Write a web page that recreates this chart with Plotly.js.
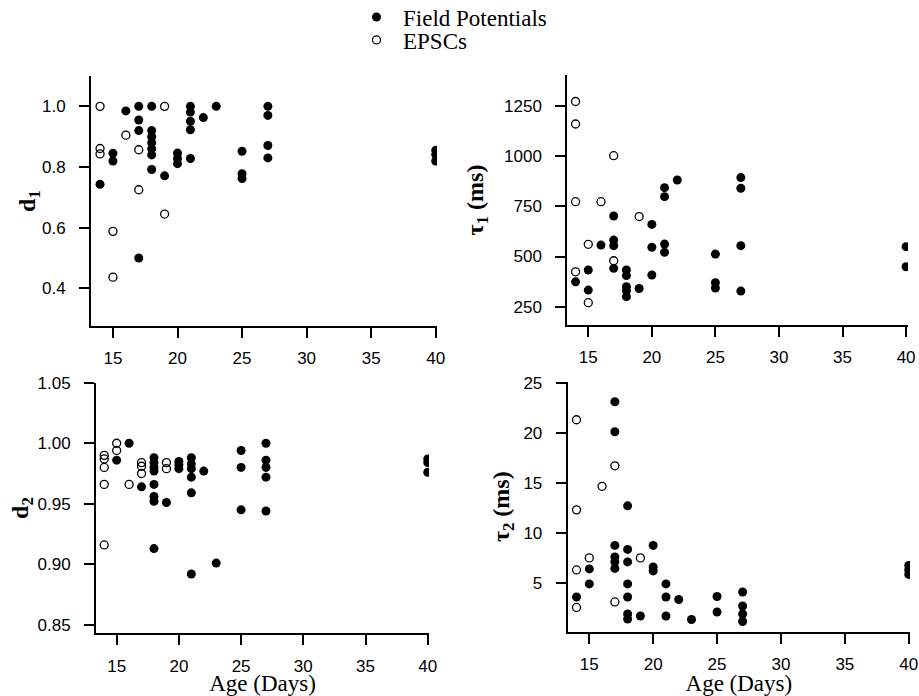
<!DOCTYPE html>
<html>
<head>
<meta charset="utf-8">
<script src="https://cdn.plot.ly/plotly-3.0.1.min.js"></script>
<style>html,body{margin:0;padding:0;background:#fff;}#chart{width:919px;height:696px;}</style>
</head>
<body>
<div id="chart"></div>
<script>
// ---- Data (ages in days) ----
const d1FpAge  = [14, 15,15, 16, 17,17,17,17, 18,18,18,18,18,18,18, 19, 20,20,20, 21,21,21,21,21, 22, 23, 25,25,25, 27,27,27,27, 40,40,40];
const d1Fp     = [0.743, 0.845,0.82, 0.985, 1.0,0.955,0.92,0.50, 1.0,0.92,0.90,0.88,0.86,0.84,0.792, 0.771, 0.846,0.828,0.811, 1.0,0.981,0.951,0.923,0.828, 0.963, 1.0, 0.852,0.778,0.762, 1.0,0.97,0.871,0.83, 0.855,0.841,0.82];
const d1EpAge  = [14,14,14, 15,15, 16, 17,17, 19,19];
const d1Ep     = [1.0,0.861,0.843, 0.588,0.437, 0.905, 0.857,0.725, 1.0,0.645];

const t1FpAge  = [14, 15,15, 16, 17,17,17,17, 18,18,18,18,18, 19, 20,20,20, 21,21,21,21, 22, 25,25,25, 27,27,27,27, 40,40];
const t1Fp     = [374, 433,333, 557, 702,582,554,441, 433,405,350,330,300, 341, 660,546,408, 843,798,562,521, 881, 512,370,343, 893,840,554,328, 549,449];
const t1EpAge  = [14,14,14,14, 15,15, 16, 17,17, 19];
const t1Ep     = [1272,1160,773,424, 561,270, 773, 1002,479, 699];

const d2FpAge  = [15, 16, 17, 18,18,18,18,18,18,18,18, 19, 20,20,20, 21,21,21,21,21,21, 22, 23, 25,25,25, 27,27,27,27,27, 40,40,40];
const d2Fp     = [0.986, 1.0, 0.964, 0.988,0.984,0.980,0.977,0.966,0.956,0.952,0.913, 0.951, 0.985,0.982,0.979, 0.988,0.983,0.979,0.972,0.959,0.892, 0.977, 0.901, 0.994,0.980,0.945, 1.0,0.986,0.980,0.972,0.944, 0.987,0.984,0.976];
const d2EpAge  = [14,14,14,14,14, 15,15, 16, 17,17,17, 19,19];
const d2Ep     = [0.990,0.987,0.980,0.966,0.916, 1.0,0.994, 0.966, 0.984,0.981,0.975, 0.984,0.979];

const t2FpAge  = [14, 15,15, 17,17,17,17,17,17, 18,18,18,18,18,18,18, 19, 20,20,20, 21,21,21, 22, 23, 25,25, 27,27,27,27, 40,40,40];
const t2Fp     = [3.6, 6.4,4.9, 23.1,20.1,8.75,7.6,7.1,6.45, 12.7,8.35,7.1,4.9,3.6,1.9,1.4, 1.7, 8.75,6.6,6.2, 4.9,3.6,1.7, 3.35, 1.35, 3.65,2.1, 4.1,2.7,1.9,1.15, 6.75,6.3,5.85];
const t2EpAge  = [14,14,14,14, 15, 16, 17,17, 19];
const t2Ep     = [21.3,12.3,6.3,2.55, 7.5, 14.65, 16.7, 3.1, 7.5];

const seriesNames = ['Field Potentials', 'EPSCs'];
const xTicks = [15, 20, 25, 30, 35, 40];

// ---- Styling / layout ----
const W = 919, H = 696;
const px = v => v / W;
const py = v => 1 - v / H;
const SANS = 'Liberation Sans, Arial, sans-serif';
const SERIF = 'Liberation Serif, Times New Roman, serif';

const filled = {symbol: 'circle', size: 9, color: '#000'};
const open = {symbol: 'circle-open', size: 8, color: '#000', line: {width: 1.3, color: '#000'}};

function tr(x, y, xa, ya, isFp, showleg) {
  return {
    type: 'scatter', mode: 'markers', x: x, y: y, xaxis: xa, yaxis: ya,
    name: isFp ? seriesNames[0] : seriesNames[1],
    marker: isFp ? filled : open,
    showlegend: showleg, legend: isFp ? 'legend' : 'legend2',
    hoverinfo: 'x+y'
  };
}

const data = [
  tr(d1FpAge, d1Fp, 'x', 'y', true, true),
  tr(d1EpAge, d1Ep, 'x', 'y', false, true),
  tr(t1FpAge, t1Fp, 'x2', 'y2', true, false),
  tr(t1EpAge, t1Ep, 'x2', 'y2', false, false),
  tr(d2FpAge, d2Fp, 'x3', 'y3', true, false),
  tr(d2EpAge, d2Ep, 'x3', 'y3', false, false),
  tr(t2FpAge, t2Fp, 'x4', 'y4', true, false),
  tr(t2EpAge, t2Ep, 'x4', 'y4', false, false)
];

function xAxis(dom, range, anchor, withTitle) {
  const a = {
    domain: dom, range: range, anchor: anchor, automargin: false,
    showline: true, linewidth: 2, linecolor: '#000',
    ticks: 'outside', ticklen: 10, tickwidth: 2, tickcolor: '#000',
    tickvals: xTicks, showgrid: false, zeroline: false,
    ticklabelstandoff: 6,
    tickfont: {family: SANS, size: 17, color: '#000'}
  };
  if (withTitle) a.title = {text: 'Age (Days)', font: {family: SERIF, size: 23, color: '#000'}, standoff: 2};
  return a;
}
function yAxis(dom, range, anchor, title, dtick, fmt, standoff) {
  return {
    domain: dom, range: range, anchor: anchor, automargin: false,
    showline: true, linewidth: 2, linecolor: '#000',
    ticks: 'outside', ticklen: 10, tickwidth: 2, tickcolor: '#000',
    dtick: dtick, tick0: 0, tickformat: fmt, showgrid: false, zeroline: false,
    ticklabelstandoff: 10,
    tickfont: {family: SANS, size: 17, color: '#000'},
    title: {text: title, font: {family: SERIF, size: 24, color: '#000', weight: 'bold'}, standoff: standoff}
  };
}

const legFont = {family: SERIF, size: 23, color: '#000'};
const layout = {
  width: W, height: H,
  margin: {l: 0, r: 0, t: 0, b: 0, autoexpand: false},
  paper_bgcolor: '#fff', plot_bgcolor: '#fff',
  font: {family: SANS, color: '#000'},
  xaxis:  xAxis([px(91), px(437)], [13.3, 40.1], 'y', false),
  yaxis:  yAxis([py(326), py(76)], [0.276, 1.1], 'x', '<b>d<sub>1</sub></b>', 0.2, '.1f', 0),
  xaxis2: xAxis([px(567.3), px(908)], [13.35, 40.15], 'y2', false),
  yaxis2: yAxis([py(325), py(75)], [159, 1404], 'x2', '<b>τ<sub>1</sub> (ms)</b>', 250, 'd', 14),
  xaxis3: xAxis([px(96), px(429)], [13.34, 40.1], 'y3', true),
  yaxis3: yAxis([py(633.3), py(382.7)], [0.843, 1.05], 'x3', '<b>d<sub>2</sub></b>', 0.05, '.2f', 1),
  xaxis4: xAxis([px(567.7), px(910)], [13.31, 40.1], 'y4', true),
  yaxis4: yAxis([py(631.7), py(381.7)], [0.13, 25.1], 'x4', '<b>τ<sub>2</sub> (ms)</b>', 5, 'd', 7),
  legend:  {x: px(350), y: py(17), xanchor: 'left', yanchor: 'middle', bgcolor: 'rgba(0,0,0,0)', borderwidth: 0,
            itemwidth: 43, font: legFont, itemclick: false, itemdoubleclick: false},
  legend2: {x: px(350), y: py(40), xanchor: 'left', yanchor: 'middle', bgcolor: 'rgba(0,0,0,0)', borderwidth: 0,
            itemwidth: 43, font: legFont, itemclick: false, itemdoubleclick: false},
  showlegend: true
};

Plotly.newPlot('chart', data, layout, {displayModeBar: false, staticPlot: true});
</script>
</body>
</html>
